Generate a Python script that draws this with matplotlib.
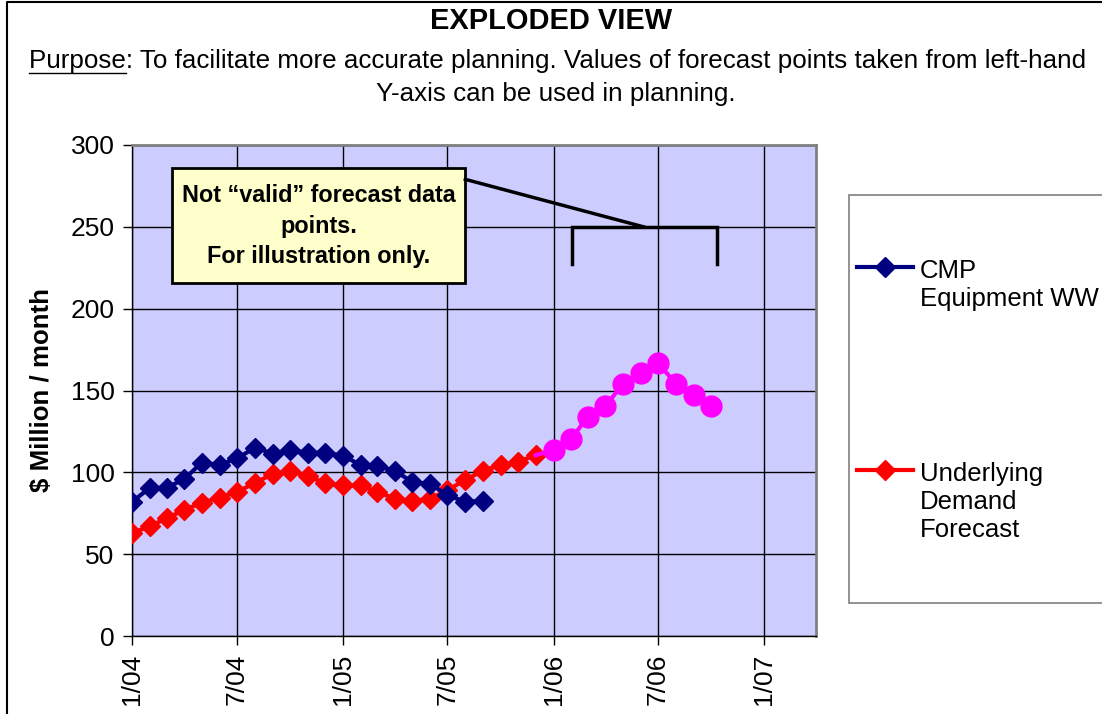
import matplotlib
matplotlib.use("Agg")
import matplotlib.pyplot as plt
import matplotlib.dates as mdates
import pandas as pd
from matplotlib.lines import Line2D
from matplotlib.patches import Rectangle

plt.rcParams['font.family'] = ['Liberation Sans', 'DejaVu Sans']

# ----------------------------------------------------------------------------
# Data
# ----------------------------------------------------------------------------
CMP_START = '2004-01-01'
CMP_VALUES = [82, 90.5, 90.5, 96, 106, 104.5, 108.5, 115, 111.5, 113.5, 112,
              112, 110, 104.5, 104, 101, 94, 93, 86, 82, 82.5]

DEMAND_START = '2004-01-01'
DEMAND_VALUES = [63, 67, 72, 77, 81.5, 84.5, 88, 93.5, 99, 101, 97.5, 93.5,
                 92, 92, 88, 84, 82.5, 84, 89, 95.5, 101, 104.5, 106.5, 110.5]

FORECAST_START = '2006-01-01'
FORECAST_VALUES = [113.5, 120.5, 134, 140.5, 154, 160.5, 167, 154, 147, 140.5]

TICK_DATES = ['2004-01-01', '2004-07-01', '2005-01-01', '2005-07-01',
              '2006-01-01', '2006-07-01', '2007-01-01']
TICK_LABELS = ['1/04', '7/04', '1/05', '7/05', '1/06', '7/06', '1/07']
Y_TICKS = [0, 50, 100, 150, 200, 250, 300]

SERIES_LABELS = ['CMP\nEquipment WW', 'Underlying\nDemand\nForecast']

NAVY = '#000080'
RED = '#FF0000'
MAGENTA = '#FF00FF'
PLOT_BG = '#CCCCFF'
NOTE_BG = '#FFFFCC'

W, H = 1102, 714
SUB_FS = 18.7


def fx(px):
    return px / W


def fy(py):
    return 1 - py / H


cmp_dates = pd.date_range(CMP_START, periods=len(CMP_VALUES), freq='MS')
dem_dates = pd.date_range(DEMAND_START, periods=len(DEMAND_VALUES), freq='MS')
fc_dates = pd.date_range(FORECAST_START, periods=len(FORECAST_VALUES), freq='MS')

fig = plt.figure(figsize=(W / 100, H / 100), dpi=100)
ax = fig.add_axes([fx(132), fy(636), fx(816) - fx(132), fy(145) - fy(636)])
ax.set_facecolor(PLOT_BG)

ax.plot(dem_dates, DEMAND_VALUES, color=RED, lw=3, marker='D', ms=10.5,
        zorder=3)
ax.plot(cmp_dates, CMP_VALUES, color=NAVY, lw=3, marker='D', ms=10.5,
        zorder=4)
ax.plot([dem_dates[-1], fc_dates[0]], [DEMAND_VALUES[-1], FORECAST_VALUES[0]],
        color=MAGENTA, lw=3, zorder=3)
ax.plot(fc_dates, FORECAST_VALUES, color=MAGENTA, lw=3, marker='o', ms=15,
        zorder=5)

ax.set_xlim(pd.Timestamp('2004-01-01'), pd.Timestamp('2007-04-01'))
ax.set_ylim(0, 300)
ax.set_xticks(pd.to_datetime(TICK_DATES))
ax.set_xticklabels(TICK_LABELS, rotation=90, fontsize=19)
ax.set_yticks(Y_TICKS)
ax.set_yticklabels([str(v) for v in Y_TICKS], fontsize=19)
ax.tick_params(direction='out', length=6.5, width=1, pad=6, color='black')
ax.grid(True, color='black', lw=1)
ax.set_axisbelow(True)
for side in ['top', 'right']:
    ax.spines[side].set_color('#808080')
    ax.spines[side].set_linewidth(2)
for side in ['left', 'bottom']:
    ax.spines[side].set_color('black')
    ax.spines[side].set_linewidth(1)

ax.set_ylabel('$ Million / month', fontsize=18.6, fontweight='bold')
ax.yaxis.set_label_coords((54 - 132) / (816 - 132), 0.5)

# note box + bracket pointing at the forecast span
box_x0 = mdates.date2num(pd.Timestamp('2004-03-10'))
box_x1 = mdates.date2num(pd.Timestamp('2005-08-01'))
ax.add_patch(Rectangle((box_x0, 215.5), box_x1 - box_x0, 70.5, fc=NOTE_BG,
                       ec='black', lw=2, zorder=6))
ax.text((box_x0 + box_x1) / 2, 250.5,
        'Not \u201cvalid\u201d forecast data\npoints.\nFor illustration only.',
        ha='center', va='center', fontsize=16.8, fontweight='bold',
        linespacing=1.42, zorder=7)
b_left, b_right = pd.Timestamp('2006-02-02'), pd.Timestamp('2006-10-11')
ax.plot([b_left, b_left, b_right, b_right], [227, 250, 250, 227],
        color='black', lw=2.5, solid_joinstyle='miter', zorder=6)
ax.plot([pd.Timestamp('2005-08-01'), pd.Timestamp('2006-06-06')], [279, 250],
        color='black', lw=2.5, zorder=6)

# legend box (clipped at the figure's right edge, as in the reference)
fig.patches.append(Rectangle((fx(849), fy(603)), fx(1120) - fx(849),
                             fy(195) - fy(603), transform=fig.transFigure,
                             fc='white', ec='#808080', lw=1.2))
for yy, col, lab in [(267, NAVY, SERIES_LABELS[0]), (470, RED, SERIES_LABELS[1])]:
    fig.add_artist(Line2D([fx(857), fx(913)], [fy(yy), fy(yy)], color=col,
                          lw=3, transform=fig.transFigure))
    fig.add_artist(Line2D([fx(885)], [fy(yy)], color=col, marker='D', ms=10.5,
                          transform=fig.transFigure))
    fig.text(fx(920), fy(yy - 8), lab, ha='left', va='top', fontsize=18.5,
             linespacing=1.2)

# figure frame (top and left edges visible)
fig.add_artist(Line2D([fx(7), fx(7), fx(1102)], [0, fy(2), fy(2)],
                      color='black', lw=1.5, transform=fig.transFigure))

# titles
fig.text(fx(551), fy(21), 'EXPLODED VIEW', ha='center', va='center',
         fontsize=20.9, fontweight='bold')
line1 = fig.text(fx(558), fy(61), 'Purpose: To facilitate more accurate planning. '
                 'Values of forecast points taken from left-hand',
                 ha='center', va='center', fontsize=SUB_FS)
fig.text(fx(556), fy(94), 'Y-axis can be used in planning.', ha='center',
         va='center', fontsize=SUB_FS)

# underline "Purpose"
fig.canvas.draw()
r = fig.canvas.get_renderer()
bb = line1.get_window_extent(r)
tmp = fig.text(0, 0, 'Purpose', fontsize=SUB_FS)
pw = tmp.get_window_extent(r).width
tmp.remove()
uy = fy(73)
fig.add_artist(Line2D([bb.x0 / W, (bb.x0 + pw) / W], [uy, uy], color='black',
                      lw=1, transform=fig.transFigure))

fig.savefig('out.png', dpi=100, facecolor='white')
